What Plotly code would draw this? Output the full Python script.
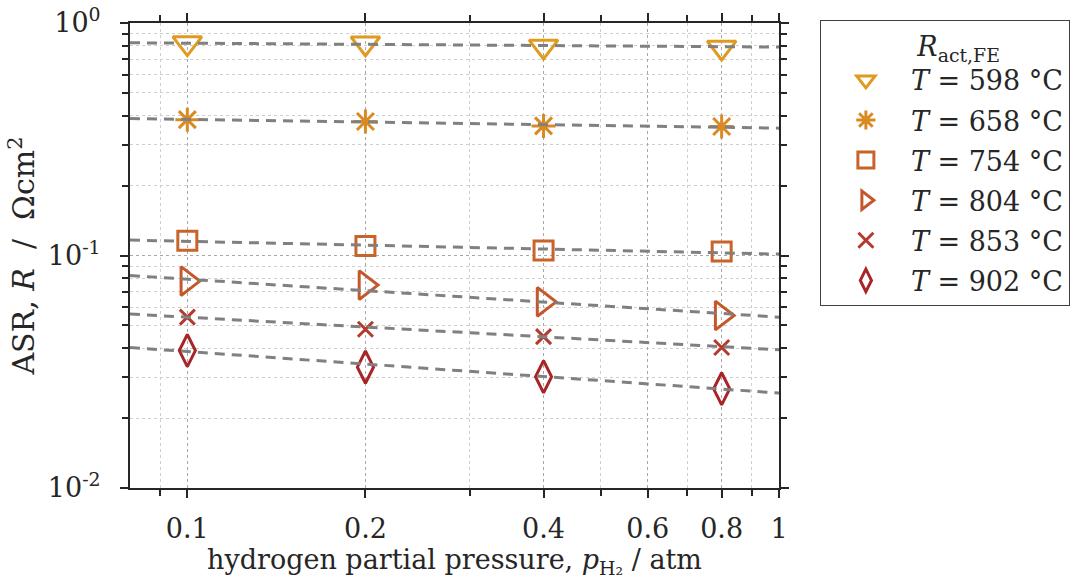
import plotly.graph_objects as go

# ---- data ----
pressure = [0.1, 0.2, 0.4, 0.8]
temps = [598, 658, 754, 804, 853, 902]
R_598 = [0.820, 0.818, 0.793, 0.785]
R_658 = [0.384, 0.377, 0.361, 0.359]
R_754 = [0.1156, 0.110, 0.105, 0.104]
R_804 = [0.0776, 0.0746, 0.0632, 0.0552]
R_853 = [0.0543, 0.0482, 0.0448, 0.0402]
R_902 = [0.0390, 0.0331, 0.0301, 0.0267]
series = [R_598, R_658, R_754, R_804, R_853, R_902]

# power-law fit lines, given by their values at the two ends of the x range
fit_x = [0.08, 1.0]
fit_598 = [0.822, 0.788]
fit_658 = [0.388, 0.353]
fit_754 = [0.1165, 0.1014]
fit_804 = [0.0820, 0.0543]
fit_853 = [0.0560, 0.0393]
fit_902 = [0.0402, 0.0256]
fits = [fit_598, fit_658, fit_754, fit_804, fit_853, fit_902]

x_major = [0.1, 0.2, 0.4, 0.6, 0.8, 1]
x_major_text = ["0.1", "0.2", "0.4", "0.6", "0.8", "1"]
x_minor = [0.09, 0.3, 0.5, 0.7, 0.9]
y_major = [0.01, 0.1, 1]
y_major_text = ["10<sup>-2</sup>", "10<sup>-1</sup>", "10<sup>0</sup>"]
y_minor = [k * 10.0 ** e for e in (-2, -1) for k in range(2, 10)]

# ---- styles ----
colors = ["#E09A1F", "#DA8A22", "#C8632A", "#C4582A", "#B43A2C", "#A92427"]
symbols = ["triangle-down-open", "asterisk-open", "square-open",
           "triangle-right-open", "x-thin-open", "diamond-tall-open"]
sizes = [25, 20, 19, 25, 15, 23]

FONT = "DejaVu Serif"
INK = "#262626"
FS = 27

fig = go.Figure()

for T, R, c, s, sz in zip(temps, series, colors, symbols, sizes):
    fig.add_trace(go.Scatter(
        x=pressure, y=R, mode="markers",
        name=f"<i>T</i> = {T} °C",
        legendgroup=str(T),
        marker=dict(symbol=s, size=sz, color=c,
                    line=dict(color=c, width=3)),
        cliponaxis=False,
    ))

for T, f in zip(temps, fits):
    fig.add_trace(go.Scatter(
        x=fit_x, y=f, mode="lines", showlegend=False,
        line=dict(color="#808080", width=3, dash="10px,7px"),
    ))

axis_common = dict(
    type="log",
    showline=True, linecolor=INK, linewidth=2, mirror="allticks",
    ticks="outside", ticklen=8, tickwidth=2, tickcolor=INK,
    showgrid=True, gridcolor="#A8A8A8", gridwidth=1, griddash="dot",
    zeroline=False,
    tickfont=dict(family=FONT, size=FS, color=INK),
)

fig.update_xaxes(
    **axis_common,
    range=[-1.0969, 0],
    tickmode="array", tickvals=x_major, ticktext=x_major_text,
    ticklabelstandoff=8,
    minor=dict(tickmode="array", tickvals=x_minor, ticks="outside",
               ticklen=6, tickwidth=2, tickcolor=INK,
               showgrid=True, gridcolor="#CFCFCF", gridwidth=1, griddash="dot"),
    title=dict(text="hydrogen partial pressure, <i>p</i><sub>H₂</sub> / atm",
               font=dict(family=FONT, size=FS, color=INK), standoff=4),
)
fig.update_yaxes(
    **axis_common,
    range=[-2, 0],
    tickmode="array", tickvals=y_major, ticktext=y_major_text,
    ticklabelstandoff=14,
    minor=dict(tickmode="array", tickvals=y_minor, ticks="outside",
               ticklen=6, tickwidth=2, tickcolor=INK,
               showgrid=True, gridcolor="#CFCFCF", gridwidth=1, griddash="dot"),
    title=dict(text="ASR, <i>R</i> \u00a0/\u00a0 Ωcm<sup>2</sup>",
               font=dict(family=FONT, size=30, color=INK), standoff=4),
)

fig.update_layout(
    width=1075, height=582,
    margin=dict(l=130, r=296, t=23, b=94, autoexpand=False),
    paper_bgcolor="white", plot_bgcolor="white",
    font=dict(family=FONT, size=FS, color=INK),
    showlegend=True,
    legend=dict(
        x=1.063, y=1.007, xanchor="left", yanchor="top",
        bgcolor="white", bordercolor="#404040", borderwidth=1,
        font=dict(family=FONT, size=FS, color=INK),
        tracegroupgap=2, itemwidth=80, maxheight=560,
        title=dict(text="\u00a0\u00a0\u00a0\u00a0\u00a0\u00a0\u00a0\u00a0\u00a0\u00a0\u00a0<i>R</i><sub>act,FE</sub>",
                   font=dict(family=FONT, size=FS, color=INK)),
    ),
)

fig.write_html("out.html")
